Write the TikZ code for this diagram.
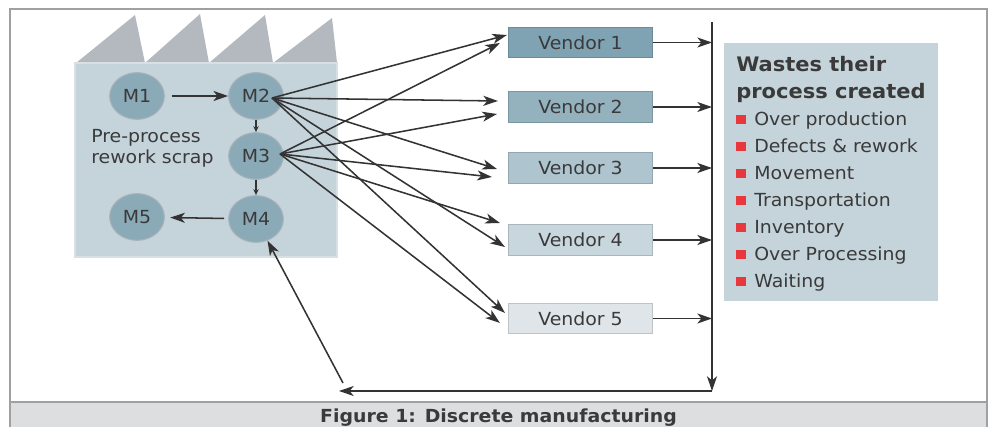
\documentclass[tikz,border=0pt]{standalone}
\usepackage{fontspec}
\setmainfont[FakeStretch=1.05]{DejaVu Sans}
\usepackage{xcolor}
\usepackage{tikz}
\usetikzlibrary{shapes,arrows.meta,calc,positioning}
\definecolor{framegrey}{RGB}{160,160,160}
\definecolor{captionfill}{RGB}{220,222,224}
\definecolor{plantfill}{RGB}{197,211,219}
\definecolor{plantedge}{RGB}{216,224,228}
\definecolor{rooffill}{RGB}{180,185,191}
\definecolor{machinefill}{RGB}{138,170,184}
\definecolor{machineedge}{RGB}{168,178,184}
\definecolor{linegrey}{RGB}{51,51,51}
\definecolor{textgrey}{RGB}{58,58,58}
\definecolor{vendorA}{RGB}{127,163,179}
\definecolor{vendorB}{RGB}{148,177,190}
\definecolor{vendorC}{RGB}{174,196,206}
\definecolor{vendorD}{RGB}{200,214,221}
\definecolor{vendorE}{RGB}{223,229,233}
\definecolor{wastered}{RGB}{232,56,61}
\tikzset{
	>={Stealth[length=11pt,width=7.5pt,inset=3pt]},
	machine/.style ={ellipse, draw=machineedge, fill=machinefill, line width=0.8pt, minimum width=41pt, minimum height=35pt, inner sep=0pt},
	vendor/.style ={rectangle, draw=#1!85!black, fill=#1, line width=0.8pt, minimum width=108pt, minimum height=23pt, inner sep=0pt},
	flow/.style = {->, draw=linegrey, line width=1.15pt},
	smallflow/.style = {-{Stealth[length=4.5pt,width=4pt]}, draw=linegrey, line width=0.9pt}
}
\newcommand{\diagfont}{\fontsize{13.5}{16}\selectfont}
\newcommand{\titlefont}{\fontsize{15}{20.3}\selectfont\bfseries}
\newcommand{\wasteitem}[1]{\textcolor{wastered}{\rule[1.5pt]{7.5pt}{6.8pt}}\hspace{6pt}#1}

\begin{document}
\begin{tikzpicture}[x=0.75pt,y=-0.75pt,font=\diagfont,text=textgrey]
    \useasboundingbox (0,0) rectangle (989,427);
    \clip (0,0) rectangle (989,427);
    % frame and caption
    \draw[framegrey, line width=1.1pt] (10,9) rectangle (987,440);
    \filldraw[fill=captionfill, draw=framegrey, line width=1.1pt] (10,402) rectangle (987,440);
    \node[anchor=base, font=\diagfont\bfseries] (caption) at (498.5,423) {Figure 1: Discrete manufacturing};

    % plant
    \fill[rooffill] (76,63) -- (135,15) -- (145,63) -- (200,14) -- (209,63) -- (265,15) -- (273,63) -- (332,18) -- (337,63) -- cycle;
    \filldraw[fill=plantfill, draw=plantedge, line width=1.5pt] (75,63) rectangle (337,257);
    \node[machine] (m1) at (137,96) {M1};
    \node[machine] (m2) at (256,96) {M2};
    \node[machine] (m3) at (256,156) {M3};
    \node[machine] (m4) at (256,219) {M4};
    \node[machine] (m5) at (137,217) {M5};
    \node[anchor=west, align=left, inner sep=0pt, font=\fontsize{13.5}{15.75}\selectfont] (rework) at (91,148) {Pre-process\\rework scrap};

    % vendors
    \node[vendor=vendorA] (v1) at (580.5,42.5) {Vendor 1};
    \node[vendor=vendorB] (v2) at (580.5,107) {Vendor 2};
    \node[vendor=vendorC] (v3) at (580.5,168) {Vendor 3};
    \node[vendor=vendorD] (v4) at (580.5,240) {Vendor 4};
    \node[vendor=vendorE] (v5) at (580.5,318.5) {Vendor 5};

    % wastes
    \fill[plantfill] (724,43) rectangle (938,301);
    \node[anchor=north west, align=left, inner sep=0pt, font=\fontsize{13.5}{20.3}\selectfont] (wastes) at (736,56)
        {{\titlefont Wastes their}\\{\titlefont process created}\\
         \wasteitem{Over production}\\\wasteitem{Defects \& rework}\\\wasteitem{Movement}\\
         \wasteitem{Transportation}\\\wasteitem{Inventory}\\\wasteitem{Over Processing}\\\wasteitem{Waiting}};

    \coordinate (bustop) at (712,22);
    \coordinate (busbottom) at (712,391);
    \coordinate (returnend) at (339,391);
    \coordinate (returnstart) at (343,383);
    \coordinate (m2out) at (272,98);
    \coordinate (m3out) at (280,154);

    \path (m1) edge[flow, shorten <=5pt] (m2);
    \path (m4) edge[flow, shorten <=3pt, shorten >=4pt] (m5);
    \path (m2) edge[smallflow] (m3);
    \path (m3) edge[smallflow] (m4);

    \path (m2out) edge[flow] ($(v1.west)+(-1,-7.5)$);
    \path (m2out) edge[flow] ($(v2.west)+(-10,-6)$);
    \path (m2out) edge[flow] ($(v3.west)+(-11,1)$);
    \path (m2out) edge[flow] ($(v4.west)+(-3,7)$);
    \path (m2out) edge[flow] ($(v5.west)+(-3,-5.5)$);
    \path (m3out) edge[flow] ($(v1.west)+(-8,0.5)$);
    \path (m3out) edge[flow] ($(v2.west)+(-11,7)$);
    \path (m3out) edge[flow] ($(v3.west)+(-16,9)$);
    \path (m3out) edge[flow] ($(v4.west)+(-8,-17)$);
    \path (m3out) edge[flow] ($(v5.west)+(-8,4.5)$);

    \path (v1) edge[flow] (v1 -| bustop);
    \path (v2) edge[flow] (v2 -| bustop);
    \path (v3) edge[flow] (v3 -| bustop);
    \path (v4) edge[flow] (v4 -| bustop);
    \path (v5) edge[flow] (v5 -| bustop);

    \path (bustop) edge[flow] (busbottom);
    \path (busbottom) edge[flow] (returnend);
    \path (returnstart) edge[flow] (m4);
\end{tikzpicture}
\end{document}
